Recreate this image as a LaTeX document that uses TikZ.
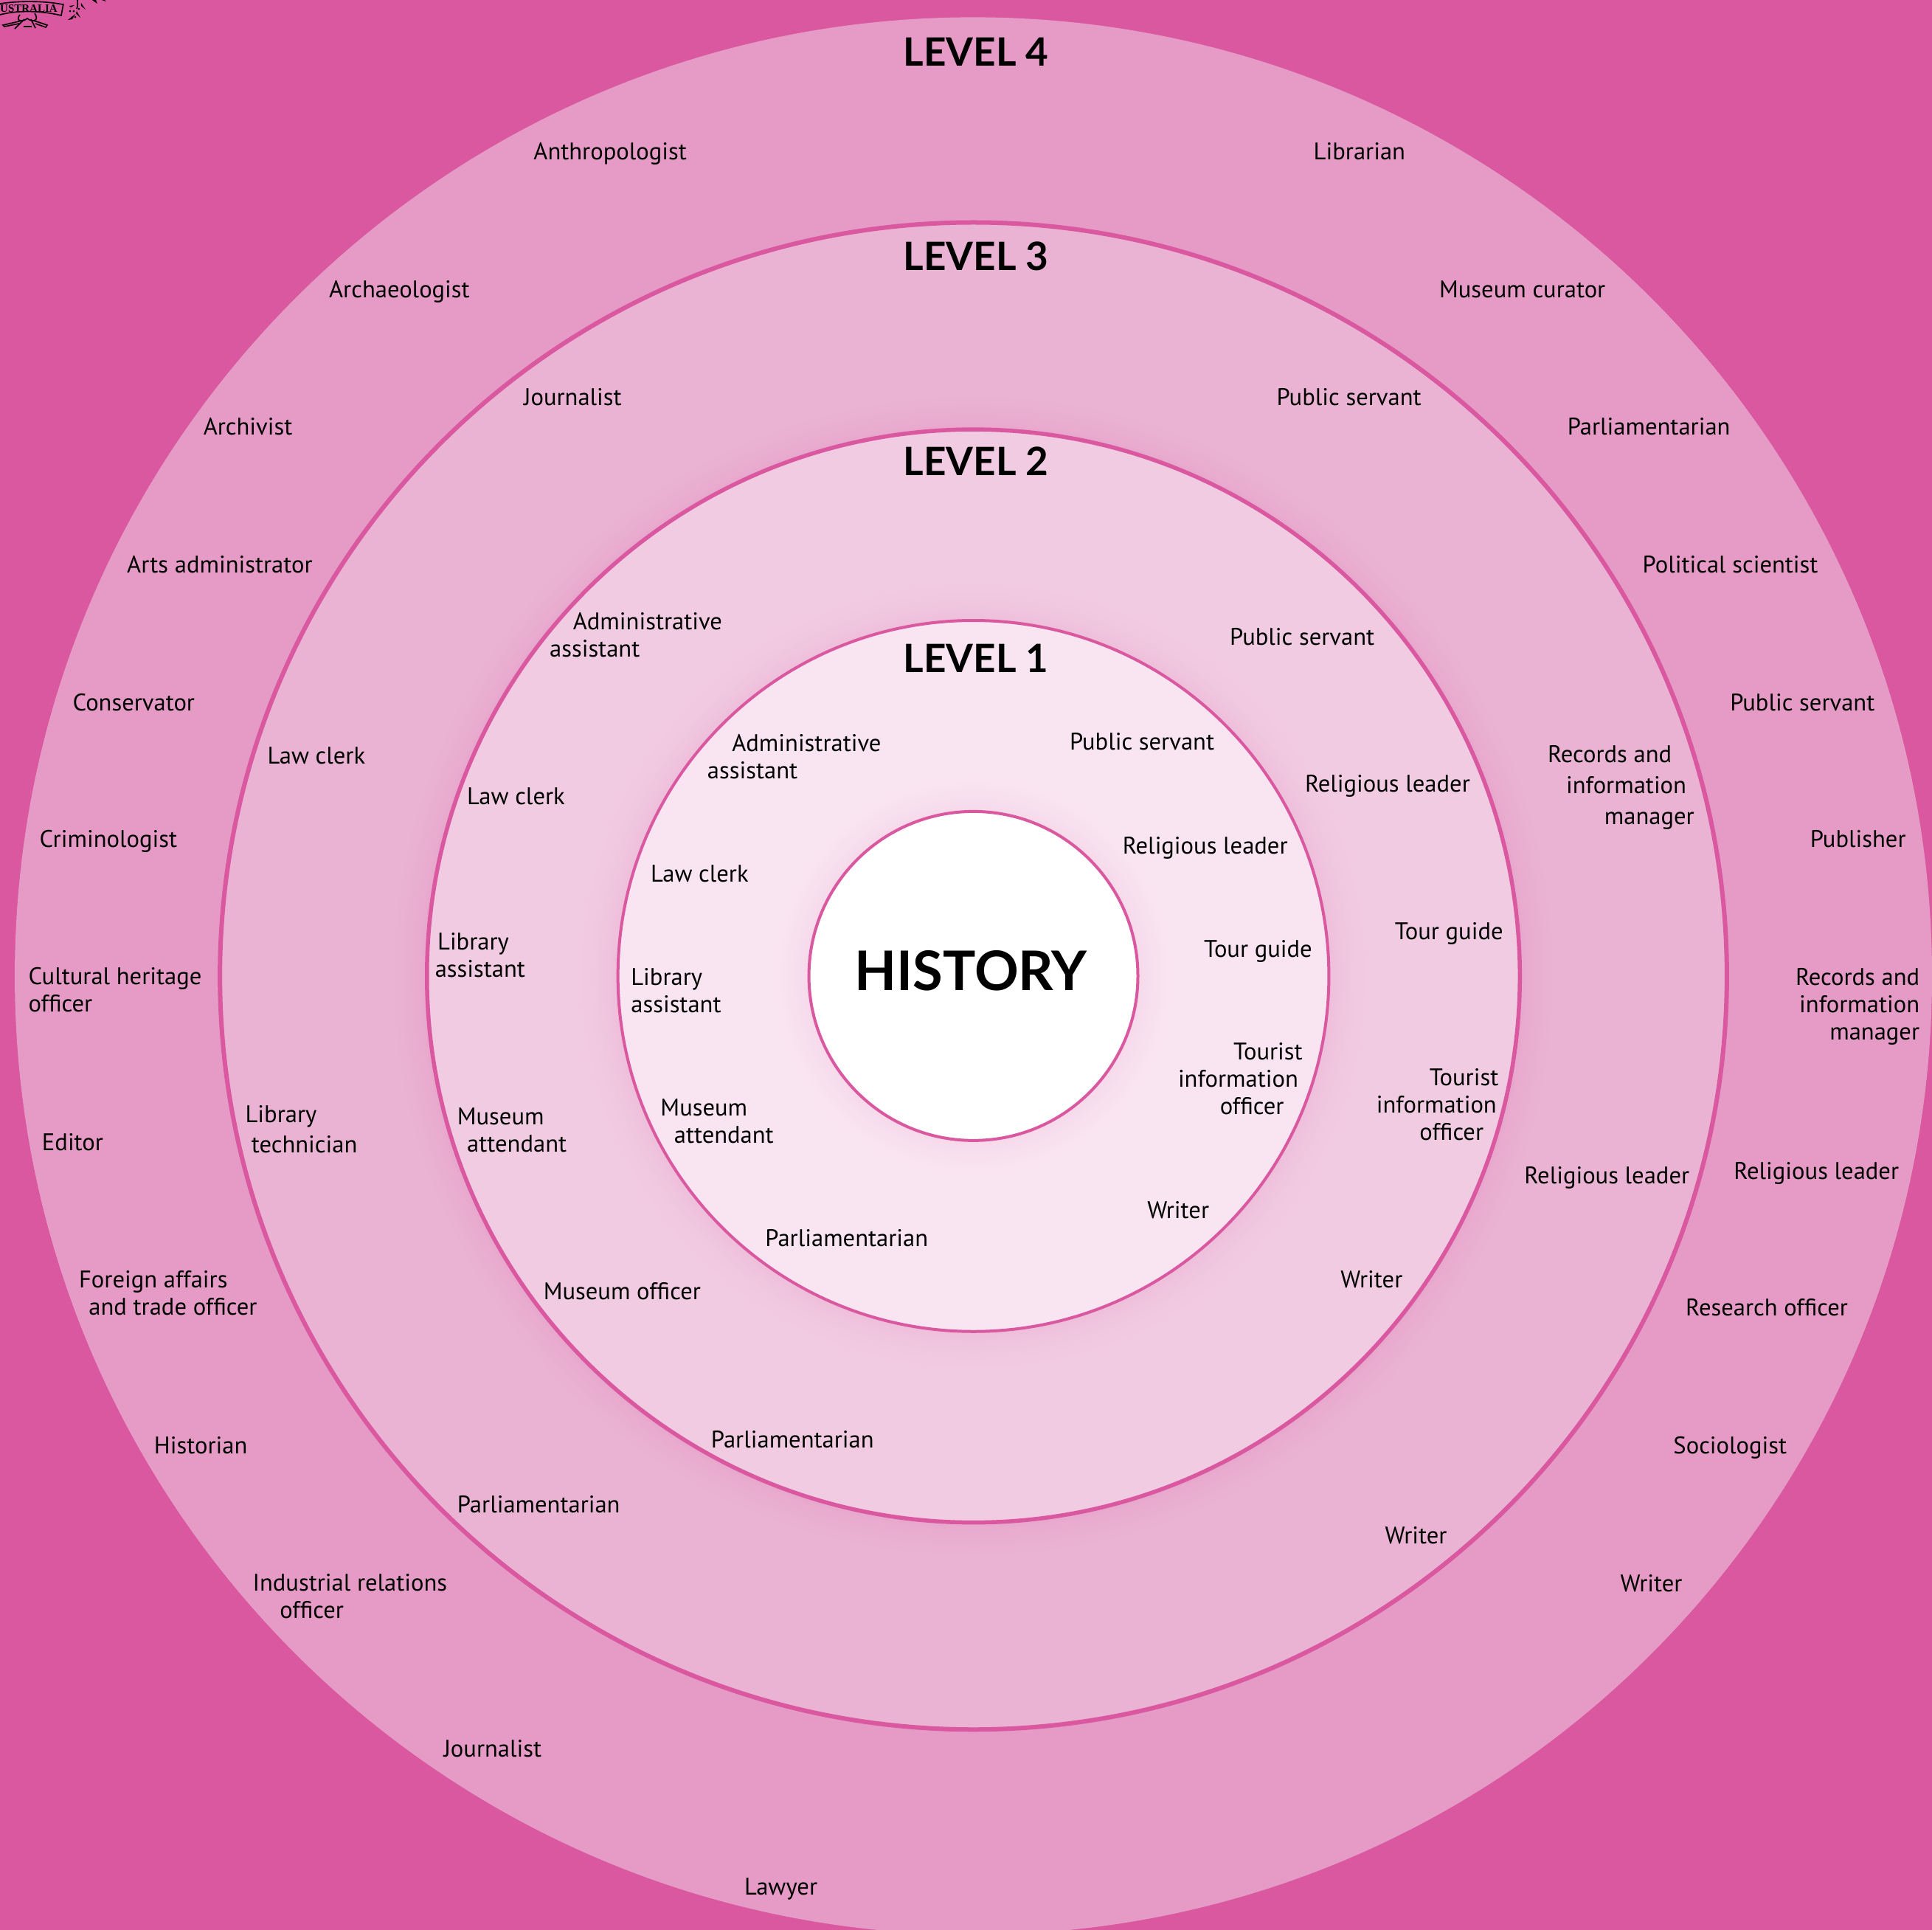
\documentclass[tikz,border=0pt]{standalone}
\usepackage{fontspec}
\setmainfont{PT Sans}
\newfontfamily\headfont{Lato}
\newfontfamily\crestfont{Liberation Serif}
\definecolor{bgpink}{HTML}{D9589F}
\definecolor{lvfour}{HTML}{E59BC6}
\definecolor{lvthree}{HTML}{EAB3D3}
\definecolor{lvtwo}{HTML}{F1CBE2}
\definecolor{lvone}{HTML}{F9E5F1}
\newcommand\ind[1]{\hspace*{\dimexpr1.6703pt*#1\relax}}
\tikzset{
  job/.style={anchor=west,inner sep=0pt,align=left,text=black,yshift=-5.5pt,
    font=\fontsize{32.6}{37}\selectfont,execute at begin node=\strut,execute at end node=\strut},
  head/.style={anchor=center,inner sep=0pt,text=black,font=\headfont\bfseries\fontsize{53}{53}\selectfont},
  ring/.style={draw=bgpink,line width=#1},
}
\newcommand\glowdisc[4]{% radius, base, mix, width in display units
  \foreach \k in {#4,...,1}{
    \pgfmathsetmacro\pc{#3*(1-\k/#4)*(1-\k/#4)}
    \fill[bgpink!\pc!#2] (790,792) circle (#1+\k);
  }
}
\begin{document}
\begin{tikzpicture}[x=1.6703pt,y=-1.6703pt]
\useasboundingbox (0,0) rectangle (1568,1566.2);
\fill[bgpink] (0,0) rectangle (1568,1566.2);
\begin{scope}
\clip (0,0) rectangle (1568,1566.2);
\fill[lvfour] (790,792) circle (778);
\end{scope}
% level 3
\draw[fill=lvthree,ring=6pt] (790,792) circle (611.5);
% level 2
\glowdisc{443.5}{lvthree}{14}{36}
\draw[fill=lvtwo,ring=5.5pt] (790,792) circle (443.5);
% level 1
\glowdisc{288.5}{lvtwo}{12}{36}
\draw[fill=lvone,ring=4pt] (790,792) circle (288.5);
% centre
\glowdisc{133.5}{lvone}{9}{36}
\draw[fill=white,ring=4pt] (790,792) circle (133.5);
% crest
\begin{scope}[x=1pt,y=-1pt,line width=1.6pt,black]
\clip (0,0) rectangle (200,60);
\draw (0,5) .. controls (25,1) and (60,1) .. (85,6);
\draw (0,20) .. controls (22,14) and (55,14) .. (83,21) -- (86,5);
\node[inner sep=0pt,font=\crestfont\bfseries\fontsize{15}{15}\selectfont] (crest) at (39,11.5) {USTRALIA};
\draw (27,20) .. controls (20,28) and (30,31) .. (37,25) .. controls (44,31) and (54,28) .. (47,18);
\draw (33,26) -- (20,39) (42,26) -- (48,38) (32,36) -- (43,36);
\draw (30,28) -- (4,34) -- (6,36) -- (26,32);
\draw (46,28) -- (64,34) -- (62,37) -- (48,32);
\fill (92,27) -- (102,19) -- (98,26) -- cycle (104,15) -- (109,24) -- (103,18) -- cycle (110,4) -- (116,13) -- (110,8) -- cycle (94,8) -- (101,7) -- (96,10) -- cycle;
\fill (107,12) circle (1.5) (95,15) circle (1.5) (100,15) circle (1.5) (102,23) circle (1.5);
\draw (104,12) .. controls (106,8) and (105,4) .. (105,0);
\fill (125,0) -- (132,5) -- (130,0) -- cycle (138,0) -- (144,2) -- (142,0) -- cycle;
\end{scope}
% headings
\node[head] (l4) at (792,42) {LEVEL 4};
\node[head] (l3) at (792,208) {LEVEL 3};
\node[head] (l2) at (792,374) {LEVEL 2};
\node[head] (l1) at (792,534) {LEVEL 1};
\node[head,font=\headfont\bfseries\fontsize{74}{74}\selectfont] (hist) at (788,788) {HISTORY};
% level 4
\node[job] (a1) at (433,122) {Anthropologist};
\node[job] (a2) at (1066,122) {Librarian};
\node[job] (a3) at (267,234) {Archaeologist};
\node[job] (a4) at (1168,234) {Museum curator};
\node[job] (a5) at (165,345) {Archivist};
\node[job] (a6) at (1272,345) {Parliamentarian};
\node[job] (a7) at (103,457) {Arts administrator};
\node[job] (a8) at (1333,457) {Political scientist};
\node[job] (a9) at (59,569) {Conservator};
\node[job] (a10) at (1404,569) {Public servant};
\node[job] (a11) at (32,680) {Criminologist};
\node[job] (a12) at (1469,680) {Publisher};
\node[job] (a13) at (23,803) {Cultural heritage\\officer};
\node[job,anchor=east,align=right] (a14) at (1558,815) {Records and\\information\\manager};
\node[job] (a15) at (34,926) {Editor};
\node[job] (a16) at (1407,949) {Religious leader};
\node[job] (a17) at (64,1049.5) {Foreign affairs\\\ind{8}and trade officer};
\node[job] (a18) at (1368,1060) {Research officer};
\node[job] (a19) at (125,1172) {Historian};
\node[job] (a20) at (1358,1172) {Sociologist};
\node[job] (a21) at (205,1295) {Industrial relations\\\ind{22}officer};
\node[job] (a22) at (1315,1284) {Writer};
\node[job] (a23) at (360,1418) {Journalist};
\node[job] (a24) at (604,1530) {Lawyer};
% level 3
\node[job] (b1) at (425,321) {Journalist};
\node[job] (b2) at (1036,321) {Public servant};
\node[job] (b3) at (1256,637) {Records and\\[5pt]\ind{15}information\\[5pt]\ind{46}manager};
\node[job] (b4) at (217,612) {Law clerk};
\node[job] (b5) at (199,916.5) {Library\\[4pt]\ind{5}technician};
\node[job] (b6) at (1237,953) {Religious leader};
\node[job] (b7) at (371,1220) {Parliamentarian};
\node[job] (b8) at (1124,1245) {Writer};
% level 2
\node[job] (c1) at (446,515) {\ind{19}Administrative\\assistant};
\node[job] (c2) at (998,516) {Public servant};
\node[job] (c3) at (379,645) {Law clerk};
\node[job] (c4) at (1059,635) {Religious leader};
\node[job] (c5) at (353,775) {\ind{2}Library\\assistant};
\node[job] (c6) at (1132,755) {Tour guide};
\node[job] (c7) at (371,917) {Museum\\\ind{8}attendant};
\node[job] (c8) at (1117,896.5) {\ind{43}Tourist\\information\\\ind{35}officer};
\node[job] (c9) at (1088,1037) {Writer};
\node[job] (c10) at (441,1047) {Museum officer};
\node[job] (c11) at (577,1167) {Parliamentarian};
% level 1
\node[job] (d1) at (574,614) {\ind{20}Administrative\\assistant};
\node[job] (d2) at (868,601) {Public servant};
\node[job] (d3) at (911,685) {Religious leader};
\node[job] (d4) at (528,708) {Law clerk};
\node[job] (d5) at (977,769) {Tour guide};
\node[job] (d6) at (512,804) {Library\\assistant};
\node[job] (d7) at (956,875.5) {\ind{45}Tourist\\information\\\ind{34}officer};
\node[job] (d8) at (536,909.5) {Museum\\\ind{11}attendant};
\node[job] (d9) at (931,981) {Writer};
\node[job] (d10) at (621,1004) {Parliamentarian};
\end{tikzpicture}
\end{document}
